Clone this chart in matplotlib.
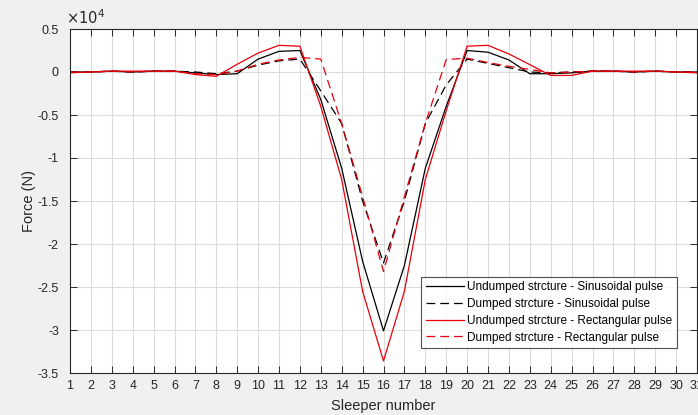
import numpy as np
import matplotlib
matplotlib.use('Agg')
import matplotlib.pyplot as plt

plt.rcParams['font.family'] = ['Liberation Sans', 'DejaVu Sans']

# sleeper numbers 1..31
sleeper = list(range(1, 32))

# forces in units of 1e4 N
undamped_sin = [0, 0, 0.01, 0, 0.01, 0.01, -0.01, -0.03, -0.02, 0.15, 0.24, 0.25,
                -0.32, -1.12, -2.2, -3.01, -2.25, -1.12, -0.4, 0.25, 0.23, 0.14,
                -0.02, -0.02, -0.01, 0.01, 0.01, 0, 0.01, 0, 0]
damped_sin = [0, 0, 0.01, 0, 0.01, 0.01, 0, -0.02, 0.01, 0.08, 0.13, 0.15,
              -0.22, -0.6, -1.5, -2.22, -1.5, -0.6, -0.15, 0.15, 0.1, 0.05,
              0.0, -0.01, 0, 0.01, 0.01, 0, 0.01, 0, 0]
undamped_rect = [-0.01, 0, 0.01, 0.01, 0.01, 0.01, -0.03, -0.05, 0.09, 0.22, 0.31, 0.30,
                 -0.4, -1.25, -2.55, -3.36, -2.55, -1.25, -0.45, 0.30, 0.31, 0.21,
                 0.086, -0.04, -0.04, 0.01, 0.01, 0.01, 0.01, 0, -0.01]
damped_rect = [0, 0, 0.01, 0, 0.01, 0.01, -0.02, -0.03, 0.01, 0.09, 0.14, 0.17,
               0.15, -0.6, -1.45, -2.32, -1.45, -0.6, 0.145, 0.16, 0.11, 0.066,
               0.03, -0.01, 0, 0.01, 0.01, 0, 0.01, 0, 0]

labels = ['Undumped strcture - Sinusoidal pulse',
          'Dumped strcture - Sinusoidal pulse',
          'Undumped strcture - Rectangular pulse',
          'Dumped strcture - Rectangular pulse']

fig = plt.figure(figsize=(6.98, 4.15), dpi=100, facecolor='#f0f0f0')
ax = fig.add_axes([70 / 698, 42 / 415, 627 / 698, 344 / 415])

scale = 1e4
ax.plot(sleeper, np.array(undamped_sin) * scale, color='black', lw=0.9, label=labels[0])
ax.plot(sleeper, np.array(damped_sin) * scale, color='black', lw=0.9, ls=(0, (7, 4)), label=labels[1])
ax.plot(sleeper, np.array(undamped_rect) * scale, color='#e8000b', lw=0.9, label=labels[2])
ax.plot(sleeper, np.array(damped_rect) * scale, color='#e8000b', lw=0.9, ls=(0, (7, 4)), label=labels[3])

ax.set_xlim(1, 31)
ax.set_ylim(-3.5e4, 0.5e4)
ax.set_xticks(sleeper)
yt = np.arange(-3.5, 0.51, 0.5)
ax.set_yticks(yt * scale)
ax.set_yticklabels(['%g' % v for v in yt])
ax.text(-0.006, 1.006, r'$\times 10^4$', transform=ax.transAxes, fontsize=10.5,
        ha='left', va='bottom', color='#262626')

ax.grid(True, color='#dcdcdc', lw=0.8)
ax.set_axisbelow(True)
ax.tick_params(direction='in', length=5, top=True, right=True, labelsize=9,
               colors='#262626', width=0.7)
ax.tick_params(axis='y', pad=8)
ax.tick_params(axis='x', pad=5)
for s in ax.spines.values():
    s.set_color('#262626')
    s.set_linewidth(0.8)

ax.set_xlabel('Sleeper number', fontsize=10.5, color='#262626', labelpad=5)
ax.set_ylabel('Force (N)', fontsize=10.5, color='#262626', labelpad=1)

leg = ax.legend(loc='lower right', bbox_to_anchor=(0.968, 0.072), fontsize=8.5,
                frameon=True, fancybox=False, edgecolor='#262626', handlelength=3.2,
                handletextpad=0.3, borderpad=0.4, labelspacing=0.4, borderaxespad=0)
leg.get_frame().set_linewidth(0.8)

fig.savefig('out.png', dpi=100, facecolor=fig.get_facecolor())
